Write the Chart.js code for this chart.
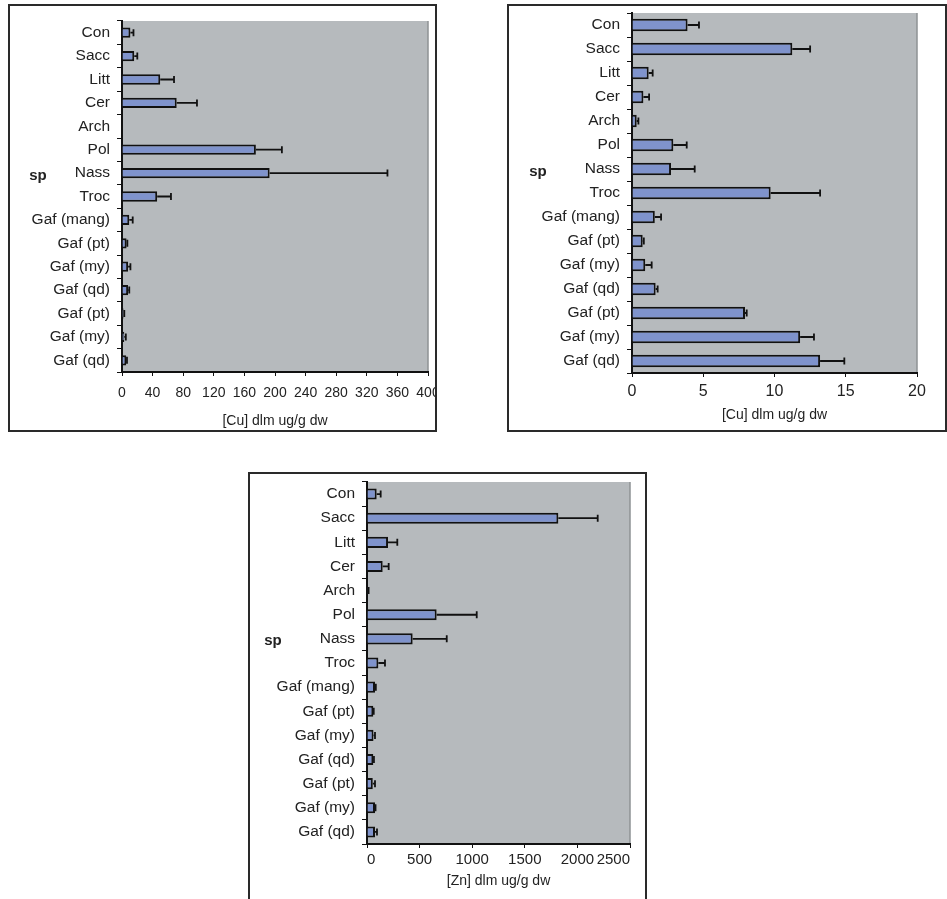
<!DOCTYPE html>
<html>
<head>
<meta charset="utf-8">
<script src="https://cdn.jsdelivr.net/npm/chart.js@4.4.1/dist/chart.umd.min.js"></script>
<style>
  body { margin: 0; background: #fff; width: 947px; height: 899px; position: relative; overflow: hidden; }
  .caixa { position: absolute; border: 2px solid #2a2a2a; }
  .caixa canvas { display: block; }
</style>
</head>
<body>
<div class="caixa" style="left:8px; top:4px; width:425px; height:424px;"><canvas id="graficoCu1" width="425" height="424"></canvas></div>
<div class="caixa" style="left:507px; top:4px; width:436px; height:424px;"><canvas id="graficoCu2" width="436" height="424"></canvas></div>
<div class="caixa" style="left:248px; top:472px; width:395px; height:427px; border-bottom:none;"><canvas id="graficoZn" width="395" height="427"></canvas></div>
<script>
const especies = ["Con", "Sacc", "Litt", "Cer", "Arch", "Pol", "Nass", "Troc",
  "Gaf (mang)", "Gaf (pt)", "Gaf (my)", "Gaf (qd)", "Gaf (pt)", "Gaf (my)", "Gaf (qd)"];

// [Cu] painel 1 (media e desvio)
const cu1Media = [11, 16, 50, 71.5, 0, 175, 193, 46, 9.5, 6, 8, 8, 2, 3, 5.5];
const cu1Desvio = [4, 4, 18, 26.5, 0, 34, 154, 18, 4.5, 1, 3, 1.5, 1, 2, 1];

// [Cu] painel 2
const cu2Media = [3.9, 11.25, 1.17, 0.8, 0.33, 2.9, 2.74, 9.73, 1.6, 0.75, 0.93, 1.66, 7.93, 11.8, 13.2];
const cu2Desvio = [0.8, 1.25, 0.28, 0.4, 0.12, 0.94, 1.66, 3.47, 0.44, 0.08, 0.45, 0.14, 0.12, 0.97, 1.7];

// [Zn]
const znMedia = [92, 1819, 200, 149, 8, 662, 434, 108, 76, 60, 62, 60, 55, 76, 76];
const znDesvio = [38, 374, 88, 57, 7, 381, 324, 63, 8, 4, 14, 6, 21, 5, 19];

const fonte = "'Liberation Sans', Arial, sans-serif";

// fundo cinza da area do grafico + "sp"
const fundoPlugin = {
  id: 'fundo',
  beforeDraw(chart, args, opts) {
    const { ctx, chartArea: a } = chart;
    ctx.save();
    ctx.fillStyle = '#b6babd';
    ctx.fillRect(a.left, a.top, a.right - a.left, a.bottom - a.top);
    ctx.strokeStyle = '#8e9294';
    ctx.lineWidth = 1.5;
    ctx.beginPath();
    ctx.moveTo(a.right, a.top);
    ctx.lineTo(a.right, a.bottom);
    ctx.stroke();
    ctx.restore();
  },
  afterDraw(chart, args, opts) {
    const { ctx, chartArea: a } = chart;
    ctx.save();
    ctx.fillStyle = '#222';
    ctx.font = "bold 15px " + fonte;
    ctx.textAlign = 'center';
    ctx.textBaseline = 'middle';
    ctx.fillText('sp', opts.spX, a.top + (a.bottom - a.top) * 0.44);
    ctx.restore();
  }
};

// barras de erro (so o lado positivo)
const erroPlugin = {
  id: 'erro',
  afterDatasetsDraw(chart) {
    const { ctx } = chart;
    const xs = chart.scales.x;
    const ds = chart.data.datasets[0];
    const meta = chart.getDatasetMeta(0);
    ctx.save();
    ctx.strokeStyle = '#111';
    ctx.lineWidth = 1.8;
    meta.data.forEach((barra, i) => {
      const sd = ds.desvio[i];
      if (!sd) return;
      const x0 = xs.getPixelForValue(ds.data[i]);
      const x1 = xs.getPixelForValue(ds.data[i] + sd);
      ctx.beginPath();
      ctx.moveTo(x0, barra.y);
      ctx.lineTo(x1, barra.y);
      ctx.moveTo(x1, barra.y - 3.5);
      ctx.lineTo(x1, barra.y + 3.5);
      ctx.stroke();
    });
    ctx.restore();
  }
};

function desenharGrafico(id, media, desvio, cfg) {
  new Chart(document.getElementById(id), {
    type: 'bar',
    data: {
      labels: especies,
      datasets: [{
        data: media,
        desvio: desvio,
        backgroundColor: '#7f93cc',
        borderColor: '#111',
        borderWidth: 2,
        borderSkipped: 'start',
        barPercentage: cfg.barra,
        categoryPercentage: 1
      }]
    },
    options: {
      indexAxis: 'y',
      responsive: false,
      animation: false,
      events: [],
      layout: { autoPadding: false, padding: { left: 0, top: cfg.topo, right: cfg.direita, bottom: 0 } },
      plugins: {
        legend: { display: false },
        tooltip: { enabled: false },
        fundo: { spX: cfg.spX }
      },
      scales: {
        y: {
          grid: { drawOnChartArea: false, tickLength: 5, color: '#111', offset: true },
          border: { color: '#111', width: 2 },
          ticks: { color: '#222', font: { family: fonte, size: 15.5 }, padding: 7 },
          afterFit(s) { s.width = cfg.largY; s.paddingTop = 0; s.paddingBottom = 0; }
        },
        x: {
          min: 0,
          max: cfg.max,
          grid: { drawOnChartArea: false, tickLength: 4, color: '#111' },
          border: { color: '#111', width: 2 },
          ticks: {
            stepSize: cfg.passo, color: '#222', font: { family: fonte, size: cfg.tamTick },
            padding: cfg.padTick, maxRotation: 0, autoSkip: false, align: cfg.alinhar,
            callback: v => String(v)
          },
          title: { display: true, text: cfg.titulo, color: '#222', font: { family: fonte, size: 14 }, padding: { top: 4, bottom: cfg.padTitulo } },
          afterFit(s) { s.height = cfg.altX; s.paddingLeft = 0; s.paddingRight = 0; }
        }
      }
    },
    plugins: [fundoPlugin, erroPlugin]
  });
}

desenharGrafico('graficoCu1', cu1Media, cu1Desvio,
  { max: 400, passo: 40, titulo: '[Cu] dlm ug/g dw', largY: 112, altX: 58, topo: 15, direita: 7, barra: 0.44,
    tamTick: 14, padTick: 9, padTitulo: 0, alinhar: 'center', spX: 28 });
desenharGrafico('graficoCu2', cu2Media, cu2Desvio,
  { max: 20, passo: 5, titulo: '[Cu] dlm ug/g dw', largY: 123, altX: 57, topo: 7, direita: 28, barra: 0.52,
    tamTick: 16, padTick: 5, padTitulo: 6, alinhar: 'center', spX: 29 });
desenharGrafico('graficoZn', znMedia, znDesvio,
  { max: 2500, passo: 500, titulo: '[Zn] dlm ug/g dw', largY: 117, altX: 57, topo: 8, direita: 15, barra: 0.46,
    tamTick: 15, padTick: 3, padTitulo: 11, alinhar: 'inner', spX: 23 });
</script>
</body>
</html>
